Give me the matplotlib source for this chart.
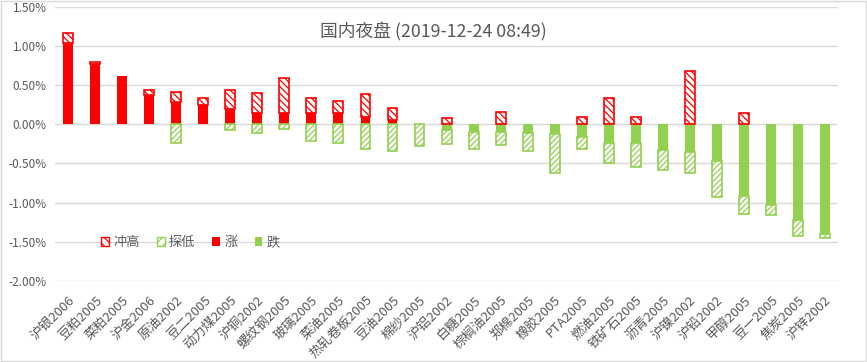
import matplotlib.pyplot as plt
from matplotlib.patches import Rectangle, Patch
from matplotlib.ticker import FuncFormatter, MultipleLocator
import numpy as np

plt.rcParams['font.family'] = ['Noto Sans CJK SC', 'DejaVu Sans']
plt.rcParams['hatch.linewidth'] = 0.9

# 品种与涨跌数据（%）
names = ['沪银2006', '豆粕2005', '菜粕2005', '沪金2006', '原油2002', '豆二2005',
         '动力煤2005', '沪铜2002', '螺纹钢2005', '玻璃2005', '菜油2005', '热轧卷板2005',
         '豆油2005', '棉纱2005', '沪铝2002', '白糖2005', '棕榈油2005', '郑棉2005',
         '橡胶2005', 'PTA2005', '燃油2005', '铁矿石2005', '沥青2005', '沪镍2002',
         '沪铅2002', '甲醇2005', '豆一2005', '焦炭2005', '沪锌2002']
close = [1.04, 0.77, 0.62, 0.37, 0.28, 0.25, 0.19, 0.15, 0.15, 0.14, 0.14, 0.09,
         0.06, 0.00, -0.07, -0.10, -0.10, -0.11, -0.12, -0.16, -0.24, -0.24, -0.33,
         -0.35, -0.47, -0.92, -1.03, -1.22, -1.40]
high = [1.17, 0.80, 0.62, 0.44, 0.41, 0.34, 0.44, 0.40, 0.59, 0.34, 0.30, 0.39,
        0.21, 0.00, 0.08, 0.00, 0.16, 0.00, 0.00, 0.09, 0.33, 0.09, 0.00,
        0.68, 0.00, 0.14, 0.00, 0.00, 0.00]
low = [0.00, 0.00, 0.00, 0.00, -0.24, 0.00, -0.07, -0.11, -0.06, -0.21, -0.24, -0.31,
       -0.34, -0.28, -0.25, -0.31, -0.26, -0.34, -0.62, -0.32, -0.50, -0.54, -0.58,
       -0.62, -0.93, -1.14, -1.16, -1.43, -1.45]

red = '#FF0000'
green = '#92D050'
gray = '#595959'

c = np.array(close)
h = np.array(high)
l = np.array(low)
x = np.arange(len(names))
w = 0.37

up = np.maximum(c, 0)
down = np.minimum(c, 0)

fig = plt.figure(figsize=(8.67, 3.62), dpi=100)
ax = fig.add_axes([0.0634, 0.224, 0.9032, 0.757])

# 涨 / 跌 实心
m = up > 0
ax.bar(x[m], up[m], w, color=red, zorder=3)
m = down < 0
ax.bar(x[m], down[m], w, color=green, zorder=3)

# 冲高 / 探低 斜线
m = (h - up) > 0.001
ax.bar(x[m], (h - up)[m], w, bottom=up[m], facecolor='white', edgecolor=red,
       hatch='\\\\\\\\\\', linewidth=1.2, zorder=3)
m = (l - down) < -0.001
ax.bar(x[m], (l - down)[m], w, bottom=down[m], facecolor='white', edgecolor=green,
       hatch='//////', linewidth=1.2, zorder=3)

ax.set_xlim(-0.5, len(names) - 0.5)
ax.set_ylim(-2.0, 1.5)
ax.yaxis.set_major_locator(MultipleLocator(0.5))
ax.yaxis.set_major_formatter(FuncFormatter(lambda v, p: f'{v:.2f}%'))
ax.grid(axis='y', color='#d9d9d9', linewidth=1, zorder=0)
for s in ax.spines.values():
    s.set_visible(False)
ax.tick_params(length=0, colors=gray, labelsize=8.5)
ax.tick_params(axis='y', pad=6)
ax.tick_params(axis='x', pad=9, labelsize=9.5)
ax.set_xticks(x)
ax.set_xticklabels(names, rotation=45, ha='right', rotation_mode='anchor')

ax.text(0.5, 0.912, '国内夜盘 (2019-12-24 08:49)', transform=fig.transFigure,
        ha='center', va='center', fontsize=12.8, color=gray)

handles = [Patch(facecolor='white', edgecolor=red, hatch='\\\\\\\\', linewidth=1),
           Patch(facecolor='white', edgecolor=green, hatch='////', linewidth=1),
           Patch(facecolor=red), Patch(facecolor=green)]
leg = ax.legend(handles, ['冲高', '探低', '涨', '跌'], loc='center', ncol=4,
                bbox_to_anchor=(0.173, 0.139), frameon=False, fontsize=9.5,
                handlelength=0.6, handleheight=0.6, handletextpad=0.3,
                columnspacing=1.3, labelcolor=gray)

fig.patches.append(Rectangle((0.001, 0.002), 0.998, 0.996, transform=fig.transFigure,
                             fill=False, edgecolor='#d9d9d9', linewidth=1))

fig.savefig('out.png', dpi=100)
